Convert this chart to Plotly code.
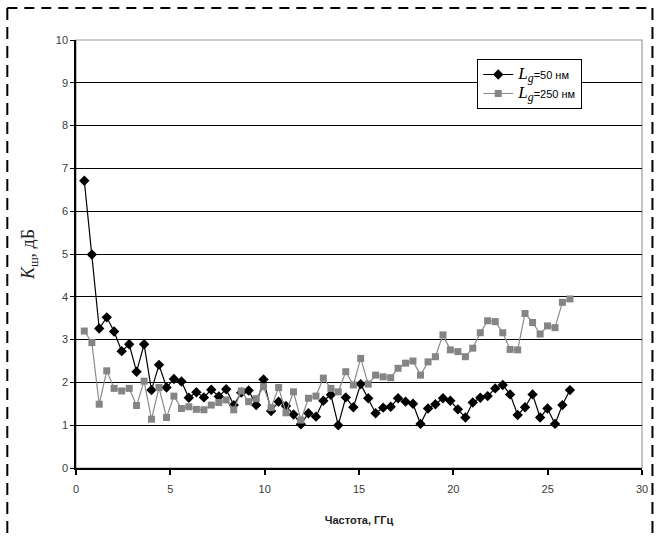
import plotly.graph_objects as go

freq_ghz = [0.44, 0.84, 1.23, 1.63, 2.02, 2.42, 2.82, 3.21, 3.61, 4.00,
            4.40, 4.80, 5.19, 5.59, 5.98, 6.38, 6.78, 7.17, 7.57, 7.96,
            8.36, 8.76, 9.15, 9.55, 9.94, 10.34, 10.74, 11.13, 11.53, 11.92,
            12.32, 12.72, 13.11, 13.51, 13.90, 14.30, 14.70, 15.09, 15.49, 15.88,
            16.28, 16.68, 17.07, 17.47, 17.86, 18.26, 18.66, 19.05, 19.45, 19.84,
            20.24, 20.64, 21.03, 21.43, 21.82, 22.22, 22.62, 23.01, 23.41, 23.80,
            24.20, 24.60, 24.99, 25.39, 25.78, 26.18]

kn_50nm = [6.71, 4.99, 3.26, 3.52, 3.19, 2.73, 2.89, 2.25, 2.89, 1.82,
           2.41, 1.88, 2.08, 2.02, 1.64, 1.77, 1.65, 1.83, 1.67, 1.84,
           1.47, 1.76, 1.81, 1.47, 2.07, 1.33, 1.55, 1.45, 1.25, 1.02,
           1.28, 1.20, 1.57, 1.71, 1.00, 1.65, 1.42, 1.96, 1.63, 1.28,
           1.41, 1.43, 1.63, 1.55, 1.50, 1.03, 1.39, 1.49, 1.63, 1.57,
           1.37, 1.18, 1.53, 1.64, 1.68, 1.86, 1.94, 1.72, 1.24, 1.42,
           1.72, 1.18, 1.39, 1.03, 1.47, 1.82]

kn_250nm = [3.20, 2.93, 1.49, 2.27, 1.86, 1.80, 1.86, 1.46, 2.03, 1.14,
            1.88, 1.18, 1.68, 1.39, 1.43, 1.37, 1.36, 1.47, 1.53, 1.59,
            1.36, 1.80, 1.55, 1.62, 1.90, 1.41, 1.88, 1.29, 1.78, 1.12,
            1.63, 1.68, 2.10, 1.86, 1.78, 2.25, 1.94, 2.56, 1.96, 2.17,
            2.13, 2.11, 2.33, 2.45, 2.50, 2.17, 2.48, 2.60, 3.11, 2.76,
            2.72, 2.60, 2.80, 3.16, 3.44, 3.42, 3.16, 2.77, 2.76, 3.61,
            3.40, 3.13, 3.32, 3.28, 3.87, 3.95]

series_names = [
    '<span style="font-family:Liberation Serif;font-size:17px"><i>L</i><sub><i>g</i></sub></span>=50 нм',
    '<span style="font-family:Liberation Serif;font-size:17px"><i>L</i><sub><i>g</i></sub></span>=250 нм',
]

W, H = 660, 538
L, R, T, B = 76, 15.5, 40, 70
pw, ph = W - L - R, H - T - B

def px(x):
    return (x - L) / pw

def py(y):
    return (H - B - y) / ph

fig = go.Figure()
fig.add_trace(go.Scatter(
    x=freq_ghz, y=kn_50nm, mode="lines+markers", name=series_names[0],
    line=dict(color="black", width=1.2),
    marker=dict(symbol="diamond", size=8, color="black"),
))
fig.add_trace(go.Scatter(
    x=freq_ghz, y=kn_250nm, mode="lines+markers", name=series_names[1],
    line=dict(color="#8a8a8a", width=1.2),
    marker=dict(symbol="square", size=7, color="#858585"),
))

tick_font = dict(family="Liberation Sans, Arial", size=11, color="#3a3a3a")

fig.update_layout(
    width=W, height=H,
    margin=dict(l=L, r=R, t=T, b=B, pad=0),
    paper_bgcolor="white", plot_bgcolor="white",
    showlegend=True,
    legend=dict(
        x=px(479), y=py(59), xanchor="left", yanchor="top",
        bgcolor="white", bordercolor="black", borderwidth=1,
        font=dict(family="Liberation Sans, Arial", size=11, color="black"),
        tracegroupgap=0, itemwidth=30,
    ),
    xaxis=dict(
        range=[0, 30], dtick=5, tick0=0,
        showgrid=False, zeroline=False,
        showline=True, linecolor="black", linewidth=2,
        ticks="outside", ticklen=5, tickcolor="black", tickwidth=1.5,
        ticklabelstandoff=5,
        tickfont=tick_font,
        title=dict(text="<b>Частота, ГГц</b>", standoff=22,
                   font=dict(family="Liberation Sans, Arial", size=11, color="#222")),
    ),
    yaxis=dict(
        range=[0, 10], dtick=1, tick0=0,
        showgrid=True, gridcolor="black", gridwidth=1.3,
        zeroline=False,
        showline=True, linecolor="black", linewidth=1.5,
        ticks="outside", ticklen=4, tickcolor="black", tickwidth=1,
        tickfont=tick_font,
        title=dict(text="<i>K</i><sub>ш</sub>, дБ", standoff=16,
                   font=dict(family="Liberation Serif, Times New Roman", size=18, color="#222")),
    ),
    shapes=[
        dict(type="rect", xref="paper", yref="paper", x0=0, y0=0, x1=1, y1=1,
             line=dict(color="#9a9a9a", width=1.2), layer="below"),
        dict(type="line", xref="paper", yref="paper",
             x0=px(7), y0=py(8), x1=px(655), y1=py(8),
             line=dict(color="black", width=2, dash="10px,7px")),
        dict(type="line", xref="paper", yref="paper",
             x0=px(7), y0=py(8), x1=px(7), y1=py(540),
             line=dict(color="black", width=2, dash="12px,7px")),
        dict(type="line", xref="paper", yref="paper",
             x0=px(655), y0=py(8), x1=px(655), y1=py(540),
             line=dict(color="black", width=2, dash="12px,7px")),
    ],
)

fig.write_html("out.html")
